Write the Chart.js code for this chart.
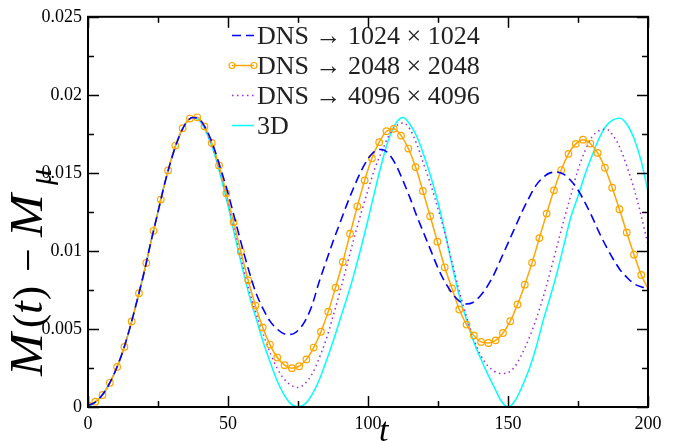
<!DOCTYPE html>
<html><head><meta charset="utf-8">
<script src="https://cdn.jsdelivr.net/npm/chart.js@4.4.1/dist/chart.umd.min.js"></script>
<style>html,body{margin:0;padding:0;background:#fff;}#wrap{width:676px;height:441px;position:relative;}</style>
</head><body><div id="wrap"><canvas id="c" width="676" height="441"></canvas></div>
<script>
const tGrid=[0,2.5,5,7.5,10,12.5,15,17.5,20,22.5,25,27.5,30,32.5,35,37.5,40,42.5,45,47.5,50,52.5,55,57.5,60,62.5,65,67.5,70,72.5,75,77.5,80,82.5,85,87.5,90,92.5,95,97.5,100,102.5,105,107.5,110,112.5,115,117.5,120,122.5,125,127.5,130,132.5,135,137.5,140,142.5,145,147.5,150,152.5,155,157.5,160,162.5,165,167.5,170,172.5,175,177.5,180,182.5,185,187.5,190,192.5,195,197.5,200];
const m1024=[0.0001,0.0003,0.00075,0.00145,0.0024,0.0036,0.0051,0.0068,0.0086,0.0106,0.0125,0.0144,0.016,0.0173,0.0182,0.01855,0.0184,0.0177,0.0166,0.0152,0.0137,0.012,0.0103,0.0087,0.0073,0.0063,0.0055,0.005,0.0047,0.00465,0.0049,0.0055,0.0065,0.008,0.0093,0.0106,0.0118,0.013,0.0141,0.0151,0.0159,0.0164,0.0165,0.0162,0.0155,0.0145,0.0134,0.0122,0.0111,0.01,0.0089,0.008,0.0073,0.0068,0.0066,0.0067,0.0071,0.0077,0.0085,0.0095,0.0105,0.0115,0.0125,0.0134,0.0142,0.0147,0.015,0.01505,0.0149,0.0145,0.0139,0.0131,0.0122,0.0112,0.0103,0.0095,0.0088,0.0083,0.0079,0.0077,0.0076];
const m4096=[0.0001,0.0003,0.00075,0.00145,0.0024,0.0036,0.0051,0.0068,0.0086,0.0106,0.0125,0.0144,0.016,0.0173,0.0182,0.01855,0.0184,0.0176,0.0164,0.0149,0.0131,0.0112,0.0093,0.0075,0.006,0.0047,0.0035,0.0025,0.0018,0.0014,0.00125,0.0015,0.0021,0.0031,0.0043,0.0058,0.0074,0.0091,0.0108,0.0124,0.0139,0.0153,0.0164,0.0174,0.018,0.0182,0.0178,0.0168,0.0155,0.0142,0.0127,0.0111,0.0093,0.0075,0.0059,0.0045,0.0034,0.0027,0.0023,0.00215,0.0022,0.0026,0.0034,0.0044,0.0056,0.007,0.0086,0.0103,0.012,0.0136,0.0152,0.0164,0.0173,0.0177,0.0178,0.0174,0.0166,0.0154,0.014,0.0123,0.0104];
const m3D=[0,0.0003,0.00075,0.00145,0.0024,0.0036,0.0051,0.0068,0.0086,0.0106,0.0125,0.0144,0.016,0.0173,0.0182,0.01855,0.0183,0.0175,0.0163,0.0147,0.0129,0.0109,0.009,0.0072,0.0057,0.0042,0.0029,0.0017,0.0008,0.0002,0,0.0002,0.0008,0.0017,0.0029,0.0042,0.0056,0.007,0.0085,0.0102,0.012,0.0139,0.0157,0.0172,0.0182,0.01855,0.0181,0.0173,0.0161,0.0147,0.0131,0.0112,0.0091,0.0072,0.0057,0.0043,0.0032,0.0022,0.0013,0.0004,0,0.0004,0.0013,0.0024,0.0038,0.0055,0.007,0.0086,0.0104,0.0122,0.0135,0.0149,0.0161,0.0172,0.018,0.0184,0.0185,0.0181,0.0172,0.0158,0.0138];
const tOrange=[0,2.6,5.2,7.8,10.4,13,15.6,18.2,20.8,23.4,26,28.6,31.2,33.8,36.4,39,41.6,44.2,46.8,49.4,52,54.6,57.2,59.8,62.4,65,67.6,70.2,72.8,75.4,78,80.6,83.2,85.8,88.4,91,93.6,96.2,98.8,101.4,104,106.6,109.2,111.8,114.4,117,119.6,122.2,124.8,127.4,130,132.6,135.2,137.8,140.4,143,145.6,148.2,150.8,153.4,156,158.6,161.2,163.8,166.4,169,171.6,174.2,176.8,179.4,182,184.6,187.2,189.8,192.4,195,197.6,200];
const m2048=[0.0001,0.00034,0.00077,0.00155,0.00257,0.00385,0.00548,0.00729,0.00923,0.01129,0.01329,0.01516,0.01675,0.01786,0.01848,0.01856,0.01798,0.01692,0.01548,0.01369,0.01184,0.00995,0.00812,0.0065,0.0051,0.004,0.00317,0.00268,0.00249,0.00261,0.00305,0.00381,0.00482,0.00611,0.00765,0.00929,0.0111,0.01286,0.01452,0.01594,0.01697,0.01767,0.01782,0.01739,0.01656,0.01537,0.01384,0.01222,0.01059,0.00895,0.0076,0.00625,0.00528,0.00459,0.00417,0.0041,0.00427,0.00474,0.0055,0.00657,0.00784,0.00925,0.01082,0.01239,0.01388,0.01518,0.01622,0.01686,0.01713,0.01688,0.01628,0.01533,0.01405,0.01267,0.01118,0.00976,0.00846,0.00757];
const xTicks=[0,50,100,150,200];
const xTickLabels=['0','50','100','150','200'];
const xMinor=[25,75,125,175];
const yTicks=[0,0.005,0.01,0.015,0.02,0.025];
const yTickLabels=['0','0.005','0.01','0.015','0.02','0.025'];
const yMinor=[0.0025,0.0075,0.0125,0.0175,0.0225];
const seriesLabels=['DNS \u2192 1024 \u00d7 1024','DNS \u2192 2048 \u00d7 2048','DNS \u2192 4096 \u00d7 4096','3D'];

const pts=(xs,ys)=>xs.map((v,i)=>({x:v,y:ys[i]}));
const SERIF='"Liberation Serif","Times New Roman",serif';
const orangeRadius=tOrange.map((v,i)=>i===tOrange.length-1?0:3.3);

const datasets=[
 {label:seriesLabels[0],data:pts(tGrid,m1024),borderColor:'rgb(0,0,255)',borderWidth:1.6,borderDash:[9,5],pointRadius:0,cubicInterpolationMode:'monotone'},
 {label:seriesLabels[1],data:pts(tOrange,m2048),borderColor:'rgb(255,165,0)',borderWidth:1.5,pointRadius:orangeRadius,pointBorderColor:'rgb(255,165,0)',pointBackgroundColor:'rgba(0,0,0,0)',pointBorderWidth:1.2,cubicInterpolationMode:'monotone'},
 {label:seriesLabels[2],data:pts(tGrid,m4096),borderColor:'rgb(160,40,220)',borderWidth:1.5,borderDash:[1.5,3.5],pointRadius:0,cubicInterpolationMode:'monotone'},
 {label:seriesLabels[3],data:pts(tGrid,m3D),borderColor:'rgb(0,255,255)',borderWidth:1.5,pointRadius:0,cubicInterpolationMode:'monotone'}
];

const decor={id:'decor',afterDraw(chart){
 const {ctx,chartArea:a,scales:{x,y}}=chart;
 ctx.save();
 ctx.strokeStyle='#000';ctx.lineWidth=1.5;ctx.lineCap='butt';
 const seg=(x1,y1,x2,y2)=>{ctx.beginPath();ctx.moveTo(x1,y1);ctx.lineTo(x2,y2);ctx.stroke();};
 const xt=(v,len)=>{const p=Math.round(x.getPixelForValue(v))+0.5;seg(p,a.bottom,p,a.bottom-len);seg(p,a.top,p,a.top+len);};
 const yt=(v,len)=>{const p=Math.round(y.getPixelForValue(v))+0.5;seg(a.left,p,a.left+len,p);seg(a.right,p,a.right-len,p);};
 xTicks.forEach(v=>xt(v,11));xMinor.forEach(v=>xt(v,6));
 yTicks.forEach(v=>yt(v,11));yMinor.forEach(v=>yt(v,6));
 ctx.lineWidth=2;ctx.strokeRect(a.left,a.top,a.right-a.left,a.bottom-a.top);
 // legend
 const rows=[35,65,95,125];
 chart.data.datasets.forEach((d,i)=>{
  const yy=rows[i]+0.5;
  ctx.save();ctx.strokeStyle=d.borderColor;ctx.lineWidth=d.borderWidth;ctx.setLineDash(d.borderDash||[]);
  seg(232,yy,254,yy);ctx.restore();
  if(i===1){ctx.save();ctx.strokeStyle=d.borderColor;ctx.lineWidth=1.2;
   [232,254].forEach(px=>{ctx.beginPath();ctx.arc(px,yy,3,0,Math.PI*2);ctx.stroke();});ctx.restore();}
  ctx.fillStyle='#222';ctx.font='26px '+SERIF;ctx.textBaseline='alphabetic';ctx.textAlign='left';
  ctx.fillText(d.label,257,rows[i]+9);
 });
 // y title (rotated), pieces placed along the axis
 ctx.save();ctx.translate(42,372);ctx.rotate(-Math.PI/2);ctx.fillStyle='#000';ctx.textBaseline='alphabetic';ctx.textAlign='left';
 const it='italic 46px '+SERIF,rm='42px '+SERIF;
 const at=(s,f,u,dy)=>{ctx.font=f;ctx.fillText(s,u,dy||0);};
 const atM=(u)=>{ctx.save();ctx.translate(u,0);ctx.scale(1.12,1);ctx.font=it;ctx.fillText('M',0,0);ctx.restore();};
 atM(-4);at('(',rm,44);at('t',it,58);at(')',rm,72);at('\u2212',rm,100);atM(135);at('\u03bc','italic 32px '+SERIF,187,9);
 ctx.restore();
 // x title
 ctx.fillStyle='#000';ctx.font='italic 34px '+SERIF;ctx.textAlign='left';ctx.fillText('t',379,441);
 ctx.restore();
}};

new Chart(document.getElementById('c'),{
 type:'line',
 data:{datasets},
 options:{responsive:false,animation:false,devicePixelRatio:1,
  layout:{padding:{top:15,right:28,left:0,bottom:0}},
  plugins:{legend:{display:false},tooltip:{enabled:false}},
  elements:{line:{fill:false}},
  scales:{
   x:{type:'linear',min:0,max:200,afterFit:s=>{s.height=34;},
    afterBuildTicks:s=>{s.ticks=xTicks.map(v=>({value:v}));},
    grid:{display:false,drawTicks:false},border:{display:false},
    ticks:{padding:6,color:'#000',font:{family:SERIF,size:18},maxRotation:0,callback:(v)=>xTickLabels[xTicks.indexOf(v)]}},
   y:{type:'linear',min:0,max:0.025,afterFit:s=>{s.width=88;},
    afterBuildTicks:s=>{s.ticks=yTicks.map(v=>({value:v}));},
    grid:{display:false,drawTicks:false},border:{display:false},
    ticks:{padding:6,color:'#000',font:{family:SERIF,size:18},callback:(v)=>yTickLabels[yTicks.indexOf(v)]}}
  }
 },
 plugins:[decor]
});
</script></body></html>
